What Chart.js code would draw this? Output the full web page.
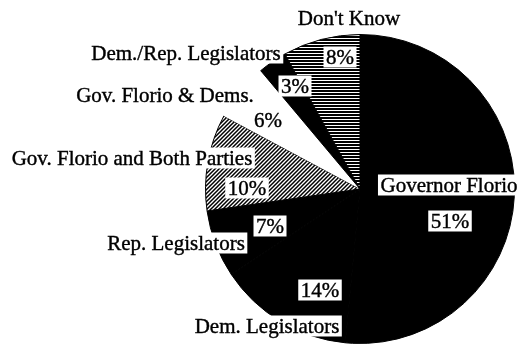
<!DOCTYPE html>
<html lang="en">

<head>
  <meta charset="UTF-8">
  <title>Who is responsible</title>
  <style>
    html, body { margin: 0; padding: 0; background: #fff; }
    #wrap { width: 524px; height: 345px; position: relative; }
  </style>
</head>

<body>
  <script src="https://cdn.jsdelivr.net/npm/chart.js"></script>

  <div id="wrap"><canvas id="pieChart"></canvas></div>
  <script>
    // slices, clockwise from the top
    const categorias = ['Governor Florio', 'Dem. Legislators', 'Rep. Legislators',
      'Gov. Florio and Both Parties', 'Gov. Florio & Dems.', 'Dem./Rep. Legislators', "Don't Know"];
    const porcentajes = [51, 14, 7, 10, 6, 3, 8];

    // where each name and each % sits, offset from the pie centre
    const posNombre = [[89, -4], [-93, 137], [-184, 54], [-228, -31], [-195, -94], [-174, -136], [-11, -171]];
    const posValor = [[90, 32], [-40, 101], [-90, 37], [-113, -1], [-92, -69], [-65, -103], [-20, -132]];

    // fill patterns for the two hatched slices
    function rayasHorizontales() {
      const c = document.createElement('canvas');
      c.width = 4; c.height = 3;
      const g = c.getContext('2d');
      g.fillStyle = '#fff';
      g.fillRect(0, 0, 4, 3);
      g.fillStyle = '#000';
      g.fillRect(0, 0, 4, 2);
      return g.createPattern(c, 'repeat');
    }

    function rayasDiagonales() {
      const c = document.createElement('canvas');
      c.width = 4; c.height = 4;
      const g = c.getContext('2d');
      g.fillStyle = '#fff';
      g.fillRect(0, 0, 4, 4);
      g.strokeStyle = '#000';
      g.lineWidth = 1.5;
      g.beginPath();
      g.moveTo(-1, 5); g.lineTo(5, -1);
      g.moveTo(-1, 1); g.lineTo(1, -1);
      g.moveTo(3, 5); g.lineTo(5, 3);
      g.stroke();
      return g.createPattern(c, 'repeat');
    }

    const rellenos = ['#000', '#000', '#000', rayasDiagonales(), '#fff', '#000', rayasHorizontales()];

    // white boxed labels drawn over the slices
    const etiquetas = {
      id: 'etiquetas',
      afterDatasetsDraw(chart) {
        const arc = chart.getDatasetMeta(0).data[0];
        const cx = arc.x, cy = arc.y;
        const ctx = chart.ctx;
        ctx.save();
        ctx.font = '21px "Liberation Serif", "Times New Roman", serif';
        ctx.textAlign = 'center';
        ctx.textBaseline = 'middle';
        ctx.lineWidth = 0.4;
        ctx.strokeStyle = '#000';
        const caja = (texto, x, y) => {
          const w = ctx.measureText(texto).width + 5;
          ctx.fillStyle = '#fff';
          ctx.fillRect(x - w / 2, y - 10.5, w, 21);
          ctx.fillStyle = '#000';
          ctx.fillText(texto, x, y + 1);
          ctx.strokeText(texto, x, y + 1);
        };
        categorias.forEach((nombre, i) => {
          caja(nombre, cx + posNombre[i][0], cy + posNombre[i][1]);
          caja(porcentajes[i] + '%', cx + posValor[i][0], cy + posValor[i][1]);
        });
        ctx.restore();
      }
    };

    const ctx = document.getElementById('pieChart').getContext('2d');
    const pieChart = new Chart(ctx, {
      type: 'pie',
      data: {
        labels: categorias,
        datasets: [{
          data: porcentajes,
          backgroundColor: rellenos,
          borderColor: '#000',
          borderWidth: [1, 1, 1, 1, 0, 1, 1]
        }]
      },
      options: {
        responsive: true,
        maintainAspectRatio: false,
        animation: false,
        layout: {
          padding: { left: 205, right: 9, top: 34, bottom: 1 }
        },
        plugins: {
          legend: { display: false },
          tooltip: { enabled: false }
        }
      },
      plugins: [etiquetas]
    });
  </script>
</body>

</html>
